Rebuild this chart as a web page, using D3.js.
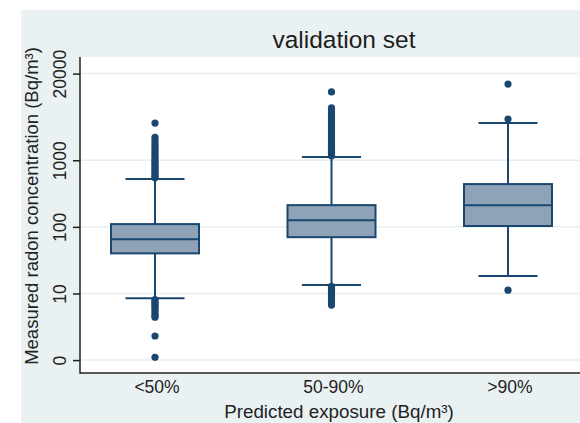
<!DOCTYPE html>
<html>
<head>
<meta charset="utf-8">
<script src="https://cdn.jsdelivr.net/npm/d3@7"></script>
<style>
  body { margin: 0; background: #fff; }
  svg { display: block; font-family: "Liberation Sans", Arial, sans-serif; }
</style>
</head>
<body>
<div id="chart"></div>
<script>
// data (Bq/m3)
const categories = ["<50%", "50-90%", ">90%"];
const q1 = [40, 70, 103];
const median = [65, 126, 212];
const q3 = [110, 212, 439];
const whiskerLow = [8.5, 13.4, 18.3];
const whiskerHigh = [522, 1117, 3620];
const outliersHigh = [
  [545, 575, 610, 650, 690, 735, 785, 840, 900, 965, 1040, 1120, 1210, 1310, 1420, 1540, 1680, 1830, 2000, 2200, 3620],
  [1170, 1240, 1320, 1410, 1510, 1620, 1750, 1890, 2050, 2230, 2430, 2650, 2900, 3180, 3500, 3850, 4250, 4700, 5200, 5800, 6100, 10600],
  [4150, 13900]
];
const outliersLow = [
  [8.1, 7.7, 7.3, 6.9, 6.5, 6.1, 5.7, 5.3, 4.9, 4.6, 4.4, 2.3, 1.1],
  [12.8, 12.1, 11.4, 10.7, 10.1, 9.5, 8.9, 8.3, 7.7, 7.2, 6.7],
  [11.2]
];
const yTicks = [1, 10, 100, 1000, 20000];
const yTickLabels = ["0", "10", "100", "1000", "20000"];

const width = 580, height = 423;
const plot = { left: 80, right: 583, top: 57, bottom: 373 };
const navy = "#1a476f";

const svg = d3.select("#chart").append("svg")
  .attr("width", width)
  .attr("height", height);

// graph region
svg.append("rect")
  .attr("x", 21).attr("y", 10)
  .attr("width", width - 21).attr("height", height - 10)
  .attr("fill", "#eaf1f3");

svg.append("rect")
  .attr("x", plot.left).attr("y", plot.top)
  .attr("width", plot.right - plot.left).attr("height", plot.bottom - plot.top)
  .attr("fill", "#fff");

const x = d3.scalePoint()
  .domain(categories)
  .range([plot.left, plot.right])
  .padding(0.425);

const y = d3.scaleLog()
  .domain([0.64, 35500])
  .range([plot.bottom, plot.top]);

// gridlines
svg.append("g")
  .selectAll("line")
  .data(yTicks)
  .join("line")
  .attr("x1", plot.left).attr("x2", plot.right)
  .attr("y1", d => y(d)).attr("y2", d => y(d))
  .attr("stroke", "#e6eef0")
  .attr("stroke-width", 1.5);

// y axis
const yAxis = svg.append("g")
  .attr("transform", `translate(${plot.left},0)`)
  .call(d3.axisLeft(y).tickValues(yTicks).tickSize(7)
    .tickFormat((d, i) => yTickLabels[i]));
yAxis.select(".domain").remove();
yAxis.selectAll(".tick line").attr("stroke", "#222").attr("stroke-width", 1.5);
yAxis.selectAll(".tick text")
  .attr("x", null).attr("dy", null)
  .attr("text-anchor", "middle")
  .attr("transform", "translate(-14,0) rotate(-90)")
  .attr("font-size", 17.5)
  .attr("fill", "#222");

// axis lines
svg.append("line")
  .attr("x1", plot.left).attr("x2", plot.left)
  .attr("y1", plot.top).attr("y2", plot.bottom + 0.75)
  .attr("stroke", "#222").attr("stroke-width", 1.5);
svg.append("line")
  .attr("x1", plot.left).attr("x2", plot.right)
  .attr("y1", plot.bottom).attr("y2", plot.bottom)
  .attr("stroke", "#222").attr("stroke-width", 1.5);

// boxes
const boxW = 88, capW = 59;
const groups = svg.append("g")
  .selectAll("g")
  .data(categories)
  .join("g")
  .attr("transform", d => `translate(${x(d)},0)`);

groups.append("line")
  .attr("y1", (d, i) => y(whiskerHigh[i])).attr("y2", (d, i) => y(q3[i]))
  .attr("stroke", navy).attr("stroke-width", 2);
groups.append("line")
  .attr("y1", (d, i) => y(q1[i])).attr("y2", (d, i) => y(whiskerLow[i]))
  .attr("stroke", navy).attr("stroke-width", 2);

groups.append("line")
  .attr("x1", -capW / 2).attr("x2", capW / 2)
  .attr("y1", (d, i) => y(whiskerHigh[i])).attr("y2", (d, i) => y(whiskerHigh[i]))
  .attr("stroke", navy).attr("stroke-width", 2);
groups.append("line")
  .attr("x1", -capW / 2).attr("x2", capW / 2)
  .attr("y1", (d, i) => y(whiskerLow[i])).attr("y2", (d, i) => y(whiskerLow[i]))
  .attr("stroke", navy).attr("stroke-width", 2);

groups.append("rect")
  .attr("x", -boxW / 2).attr("width", boxW)
  .attr("y", (d, i) => y(q3[i]))
  .attr("height", (d, i) => y(q1[i]) - y(q3[i]))
  .attr("fill", "#8fa3b8")
  .attr("stroke", navy).attr("stroke-width", 2);

groups.append("line")
  .attr("x1", -boxW / 2).attr("x2", boxW / 2)
  .attr("y1", (d, i) => y(median[i])).attr("y2", (d, i) => y(median[i]))
  .attr("stroke", navy).attr("stroke-width", 2);

// outliers
groups.selectAll("circle")
  .data((d, i) => outliersHigh[i].concat(outliersLow[i]))
  .join("circle")
  .attr("cx", 0)
  .attr("cy", d => y(d))
  .attr("r", 3.6)
  .attr("fill", navy);

// x tick labels
svg.append("g")
  .selectAll("text")
  .data(categories)
  .join("text")
  .attr("x", d => x(d) + 2)
  .attr("y", 393)
  .attr("text-anchor", "middle")
  .attr("font-size", 17.5)
  .attr("fill", "#222")
  .text(d => d);

// titles
svg.append("text")
  .attr("x", 344).attr("y", 48)
  .attr("text-anchor", "middle")
  .attr("font-size", 24.5)
  .attr("fill", "#1e1e1e")
  .text("validation set");

svg.append("text")
  .attr("x", 339).attr("y", 418)
  .attr("text-anchor", "middle")
  .attr("font-size", 18.8)
  .attr("fill", "#222")
  .text("Predicted exposure (Bq/m³)");

svg.append("text")
  .attr("transform", "translate(38,206) rotate(-90)")
  .attr("text-anchor", "middle")
  .attr("font-size", 18.5)
  .attr("fill", "#222")
  .text("Measured radon concentration (Bq/m³)");
</script>
</body>
</html>
